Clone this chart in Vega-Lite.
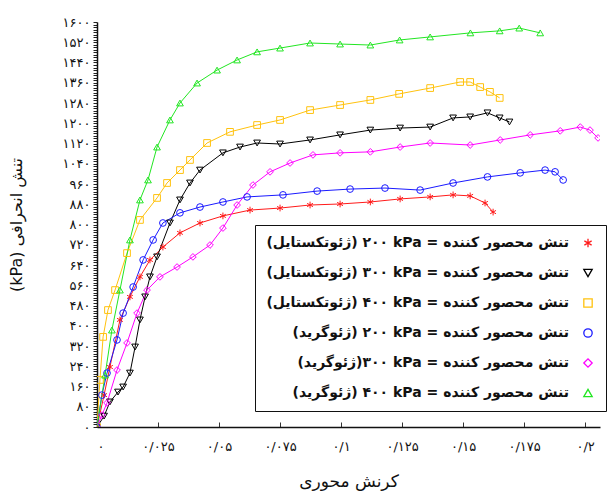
{
  "$schema": "https://vega.github.io/schema/vega-lite/v6.json",
  "width": 503,
  "height": 405,
  "autosize": {"type": "none"},
  "padding": {"left": 97, "top": 22, "right": 14, "bottom": 68},
  "background": "white",
  "config": {
    "view": {"stroke": null},
    "font": "DejaVu Sans"
  },
  "data": {
    "values": [
      {"k":"a","x":0,"y":0},{"k":"a","x":0.0029,"y":126},{"k":"a","x":0.0053,"y":237},{"k":"a","x":0.0094,"y":423},{"k":"a","x":0.0135,"y":514},{"k":"a","x":0.0176,"y":593},{"k":"a","x":0.0217,"y":660},{"k":"a","x":0.027,"y":711},{"k":"a","x":0.034,"y":767},{"k":"a","x":0.0422,"y":806},{"k":"a","x":0.0516,"y":834},{"k":"a","x":0.0627,"y":857},{"k":"a","x":0.075,"y":865},{"k":"a","x":0.0873,"y":877},{"k":"a","x":0.0996,"y":881},{"k":"a","x":0.112,"y":889},{"k":"a","x":0.1242,"y":901},{"k":"a","x":0.1365,"y":909},{"k":"a","x":0.1459,"y":917},{"k":"a","x":0.1529,"y":913},{"k":"a","x":0.159,"y":885},{"k":"a","x":0.1623,"y":849},
      {"k":"b","x":0,"y":0},{"k":"b","x":0.0029,"y":43},{"k":"b","x":0.0053,"y":99},{"k":"b","x":0.0086,"y":138},{"k":"b","x":0.0107,"y":158},{"k":"b","x":0.0135,"y":213},{"k":"b","x":0.0156,"y":316},{"k":"b","x":0.0176,"y":423},{"k":"b","x":0.0197,"y":514},{"k":"b","x":0.0217,"y":593},{"k":"b","x":0.0246,"y":672},{"k":"b","x":0.0299,"y":806},{"k":"b","x":0.034,"y":897},{"k":"b","x":0.0381,"y":964},{"k":"b","x":0.0422,"y":1015},{"k":"b","x":0.0516,"y":1083},{"k":"b","x":0.0586,"y":1106},{"k":"b","x":0.0656,"y":1122},{"k":"b","x":0.075,"y":1118},{"k":"b","x":0.0873,"y":1134},{"k":"b","x":0.0996,"y":1154},{"k":"b","x":0.112,"y":1173},{"k":"b","x":0.1242,"y":1181},{"k":"b","x":0.1365,"y":1185},{"k":"b","x":0.1459,"y":1221},{"k":"b","x":0.1529,"y":1225},{"k":"b","x":0.16,"y":1241},{"k":"b","x":0.165,"y":1221},{"k":"b","x":0.169,"y":1205},
      {"k":"c","x":0,"y":0},{"k":"c","x":0.0012,"y":186},{"k":"c","x":0.0025,"y":356},{"k":"c","x":0.0045,"y":462},{"k":"c","x":0.0074,"y":541},{"k":"c","x":0.0123,"y":687},{"k":"c","x":0.0176,"y":818},{"k":"c","x":0.0246,"y":905},{"k":"c","x":0.0287,"y":964},{"k":"c","x":0.034,"y":1015},{"k":"c","x":0.0381,"y":1055},{"k":"c","x":0.0451,"y":1122},{"k":"c","x":0.0545,"y":1166},{"k":"c","x":0.0656,"y":1193},{"k":"c","x":0.075,"y":1213},{"k":"c","x":0.0873,"y":1252},{"k":"c","x":0.0996,"y":1272},{"k":"c","x":0.112,"y":1292},{"k":"c","x":0.1238,"y":1316},{"k":"c","x":0.1365,"y":1339},{"k":"c","x":0.1488,"y":1363},{"k":"c","x":0.1529,"y":1363},{"k":"c","x":0.157,"y":1343},{"k":"c","x":0.161,"y":1324},{"k":"c","x":0.165,"y":1300},
      {"k":"d","x":0,"y":0},{"k":"d","x":0.002,"y":126},{"k":"d","x":0.0041,"y":213},{"k":"d","x":0.0082,"y":344},{"k":"d","x":0.0107,"y":450},{"k":"d","x":0.0148,"y":553},{"k":"d","x":0.0189,"y":660},{"k":"d","x":0.023,"y":739},{"k":"d","x":0.027,"y":806},{"k":"d","x":0.034,"y":846},{"k":"d","x":0.0422,"y":869},{"k":"d","x":0.0516,"y":889},{"k":"d","x":0.0615,"y":909},{"k":"d","x":0.0762,"y":917},{"k":"d","x":0.0902,"y":932},{"k":"d","x":0.1037,"y":940},{"k":"d","x":0.118,"y":944},{"k":"d","x":0.1324,"y":936},{"k":"d","x":0.1459,"y":964},{"k":"d","x":0.16,"y":988},{"k":"d","x":0.1734,"y":1004},{"k":"d","x":0.1836,"y":1015},{"k":"d","x":0.1877,"y":1008},{"k":"d","x":0.191,"y":976},
      {"k":"e","x":0,"y":0},{"k":"e","x":0.002,"y":47},{"k":"e","x":0.0041,"y":95},{"k":"e","x":0.0082,"y":225},{"k":"e","x":0.0123,"y":332},{"k":"e","x":0.0164,"y":450},{"k":"e","x":0.0205,"y":541},{"k":"e","x":0.0258,"y":593},{"k":"e","x":0.0328,"y":632},{"k":"e","x":0.0393,"y":672},{"k":"e","x":0.0463,"y":719},{"k":"e","x":0.0516,"y":786},{"k":"e","x":0.0574,"y":877},{"k":"e","x":0.0639,"y":956},{"k":"e","x":0.0709,"y":1008},{"k":"e","x":0.0791,"y":1043},{"k":"e","x":0.0885,"y":1075},{"k":"e","x":0.0996,"y":1083},{"k":"e","x":0.112,"y":1087},{"k":"e","x":0.1242,"y":1106},{"k":"e","x":0.1365,"y":1122},{"k":"e","x":0.1529,"y":1114},{"k":"e","x":0.1652,"y":1134},{"k":"e","x":0.1775,"y":1154},{"k":"e","x":0.1898,"y":1170},{"k":"e","x":0.198,"y":1185},{"k":"e","x":0.202,"y":1173},{"k":"e","x":0.2053,"y":1142},
      {"k":"f","x":0,"y":0},{"k":"f","x":0.0033,"y":205},{"k":"f","x":0.0061,"y":383},{"k":"f","x":0.0094,"y":541},{"k":"f","x":0.0135,"y":739},{"k":"f","x":0.0176,"y":897},{"k":"f","x":0.0209,"y":976},{"k":"f","x":0.0246,"y":1106},{"k":"f","x":0.0299,"y":1213},{"k":"f","x":0.034,"y":1280},{"k":"f","x":0.041,"y":1359},{"k":"f","x":0.0492,"y":1410},{"k":"f","x":0.0574,"y":1450},{"k":"f","x":0.0656,"y":1482},{"k":"f","x":0.075,"y":1497},{"k":"f","x":0.0873,"y":1517},{"k":"f","x":0.0996,"y":1513},{"k":"f","x":0.112,"y":1509},{"k":"f","x":0.124,"y":1529},{"k":"f","x":0.1365,"y":1541},{"k":"f","x":0.153,"y":1557},{"k":"f","x":0.165,"y":1565},{"k":"f","x":0.173,"y":1576},{"k":"f","x":0.1816,"y":1557}
    ]
  },
  "encoding": {
    "x": {
      "field": "x", "type": "quantitative",
      "scale": {"domain": [0, 0.2061], "nice": false, "zero": false},
      "axis": {
        "title": "کرنش محوری",
        "titleFontSize": 17, "titleFontWeight": "normal", "titlePadding": 20, "titleColor": "#111",
        "values": [0, 0.025, 0.05, 0.075, 0.1, 0.125, 0.15, 0.175, 0.2],
        "labelExpr": "replace(replace(replace(replace(replace(replace(replace(replace(replace(replace(replace(format(datum.value,'~g'),'.','/'),regexp('0','g'),'۰'),regexp('1','g'),'۱'),regexp('2','g'),'۲'),regexp('3','g'),'۳'),regexp('4','g'),'۴'),regexp('5','g'),'۵'),regexp('6','g'),'۶'),regexp('7','g'),'۷'),regexp('8','g'),'۸'),regexp('9','g'),'۹')",
        "labelFontSize": 13, "labelColor": "#111", "labelPadding": 18,
        "tickSize": -5, "tickColor": "#333", "domainColor": "#111", "domainWidth": 1.5,
        "grid": false, "labelOverlap": false
      }
    },
    "y": {
      "field": "y", "type": "quantitative",
      "scale": {"domain": [0, 1600], "nice": false},
      "axis": {
        "title": "\u202bتنش انحرافی (kPa)\u202c",
        "titleFontSize": 16, "titleFontWeight": "normal", "titlePadding": 38, "titleColor": "#111",
        "values": [0,10,20,30,40,50,60,70,80,90,100,110,120,130,140,150,160,170,180,190,200,210,220,230,240,250,260,270,280,290,300,310,320,330,340,350,360,370,380,390,400,410,420,430,440,450,460,470,480,490,500,510,520,530,540,550,560,570,580,590,600,610,620,630,640,650,660,670,680,690,700,710,720,730,740,750,760,770,780,790,800,810,820,830,840,850,860,870,880,890,900,910,920,930,940,950,960,970,980,990,1000,1010,1020,1030,1040,1050,1060,1070,1080,1090,1100,1110,1120,1130,1140,1150,1160,1170,1180,1190,1200,1210,1220,1230,1240,1250,1260,1270,1280,1290,1300,1310,1320,1330,1340,1350,1360,1370,1380,1390,1400,1410,1420,1430,1440,1450,1460,1470,1480,1490,1500,1510,1520,1530,1540,1550,1560,1570,1580,1590,1600],
        "labelExpr": "datum.value % 80 == 0 ? replace(replace(replace(replace(replace(replace(replace(replace(replace(replace(format(datum.value,'d'),regexp('0','g'),'۰'),regexp('1','g'),'۱'),regexp('2','g'),'۲'),regexp('3','g'),'۳'),regexp('4','g'),'۴'),regexp('5','g'),'۵'),regexp('6','g'),'۶'),regexp('7','g'),'۷'),regexp('8','g'),'۸'),regexp('9','g'),'۹') : ''",
        "labelFontSize": 13, "labelColor": "#111", "labelPadding": 3,
        "tickSize": 4, "tickColor": "#222", "tickWidth": 1, "domainColor": "#111", "domainWidth": 1.5,
        "grid": false, "labelOverlap": false, "labelBound": false
      }
    },
    "color": {
      "field": "k", "type": "nominal",
      "scale": {"domain": ["a","b","c","d","e","f"], "range": ["#ff1a1a","#000000","#ffc20e","#1a1aff","#ff00ff","#22e622"]},
      "legend": {
        "title": null,
        "orient": "none", "legendX": 158, "legendY": 203,
        "strokeColor": "#111", "fillColor": "white", "padding": 11,
        "rowPadding": 16, "symbolSize": 70, "symbolStrokeWidth": 1.3,
        "labelFontSize": 14, "labelFontWeight": "bold", "labelColor": "#111", "labelLimit": 0,
        "labelAlign": "right", "labelOffset": -26, "symbolOffset": 315,
        "labelExpr": "datum.label == 'a' ? '\u202bتنش محصور کننده = kPa\u200f ۲۰۰ (ژئوتکستایل)\u202c' : datum.label == 'b' ? '\u202bتنش محصور کننده = kPa\u200f ۳۰۰ (ژئوتکستایل)\u202c' : datum.label == 'c' ? '\u202bتنش محصور کننده = kPa\u200f ۴۰۰ (ژئوتکستایل)\u202c' : datum.label == 'd' ? '\u202bتنش محصور کننده = kPa\u200f ۲۰۰ (ژئوگرید)\u202c' : datum.label == 'e' ? '\u202bتنش محصور کننده = kPa\u200f ۳۰۰(ژئوگرید)\u202c' : '\u202bتنش محصور کننده = kPa\u200f ۴۰۰ (ژئوگرید)\u202c'"
      }
    }
  },
  "layer": [
    {"mark": {"type": "line", "strokeWidth": 1, "clip": true}},
    {
      "mark": {"type": "point", "filled": false, "size": 45, "strokeWidth": 1, "opacity": 1, "clip": true},
      "encoding": {
        "shape": {
          "field": "k", "type": "nominal",
          "scale": {"domain": ["a","b","c","d","e","f"], "range": ["M0,-1L0,1M-0.87,-0.5L0.87,0.5M-0.87,0.5L0.87,-0.5","triangle-down","square","circle","diamond","triangle-up"]}
        }
      }
    }
  ]
}
